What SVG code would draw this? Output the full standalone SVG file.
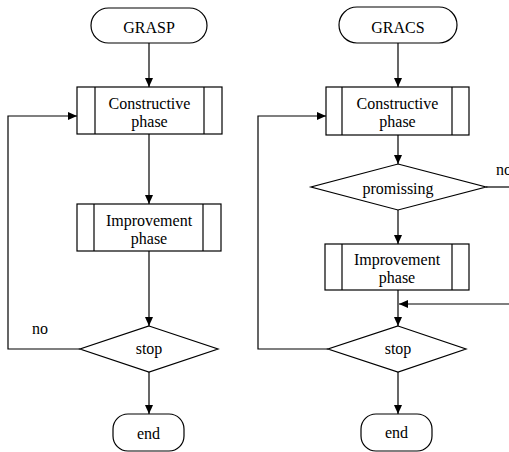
<svg xmlns="http://www.w3.org/2000/svg" width="509" height="452" viewBox="0 0 509 452" font-family="'Liberation Serif', 'Times New Roman', 'DejaVu Serif', serif" font-size="16">
<defs>
<marker id="ah" markerWidth="10" markerHeight="10" refX="9" refY="4" orient="auto" markerUnits="userSpaceOnUse">
<path d="M0,0 L9,4 L0,8 Z" fill="#000"/>
</marker>
<style>
.s{fill:#fff;stroke:#000;stroke-width:1.2}
.l{fill:none;stroke:#000;stroke-width:1.2}
.c{fill:none;stroke:#000;stroke-width:1.2;marker-end:url(#ah)}
text{font-family:'Liberation Serif','Times New Roman','DejaVu Serif',serif;font-size:16px;fill:#000}
.m{text-anchor:middle}
</style>
</defs>
<rect width="509" height="452" fill="#fff"/>
<g id="connectors">
<line class="c" x1="149" y1="43" x2="149" y2="87"/>
<line class="c" x1="149" y1="134" x2="149" y2="204"/>
<line class="c" x1="149" y1="251" x2="149" y2="326"/>
<line class="c" x1="149" y1="372" x2="149" y2="414"/>
<polyline class="c" points="80,349 8,349 8,116 77,116"/>
<line class="c" x1="398" y1="43" x2="398" y2="87"/>
<line class="c" x1="398" y1="135" x2="398" y2="164"/>
<line class="c" x1="398" y1="210" x2="398" y2="244"/>
<line class="c" x1="398" y1="290" x2="398" y2="326"/>
<line class="l" x1="486" y1="187" x2="509" y2="187"/>
<line class="c" x1="509" y1="304" x2="399" y2="304"/>
<line class="c" x1="398" y1="372" x2="398" y2="414"/>
<polyline class="c" points="328,349 258,349 258,116 326,116"/>
</g>
<g id="grasp">
<rect class="s" x="91" y="8" width="116" height="35" rx="17.5"/>
<text class="m" x="149" y="33">GRASP</text>
</g>
<g id="constructive1">
<rect class="s" x="77" y="87" width="145" height="47"/>
<line class="l" x1="95" y1="87" x2="95" y2="134"/>
<line class="l" x1="204" y1="87" x2="204" y2="134"/>
<text class="m" x="149.5" y="109">Constructive</text>
<text class="m" x="149.5" y="127">phase</text>
</g>
<g id="improvement1">
<rect class="s" x="77" y="204" width="144" height="47"/>
<line class="l" x1="94" y1="204" x2="94" y2="251"/>
<line class="l" x1="203" y1="204" x2="203" y2="251"/>
<text class="m" x="149" y="226">Improvement</text>
<text class="m" x="149" y="244">phase</text>
</g>
<g id="stop1">
<polygon class="s" points="149,326 218,349 149,372 80,349"/>
<text class="m" x="149" y="354">stop</text>
</g>
<text id="no1" x="32" y="334">no</text>
<g id="end1">
<rect class="s" x="113" y="414" width="71" height="37" rx="15"/>
<text class="m" x="148.5" y="439">end</text>
</g>
<g id="gracs">
<rect class="s" x="339" y="7" width="118" height="36" rx="18"/>
<text class="m" x="398" y="33">GRACS</text>
</g>
<g id="constructive2">
<rect class="s" x="326" y="87" width="143" height="48"/>
<line class="l" x1="342" y1="87" x2="342" y2="135"/>
<line class="l" x1="452" y1="87" x2="452" y2="135"/>
<text class="m" x="397.5" y="109">Constructive</text>
<text class="m" x="397.5" y="127">phase</text>
</g>
<g id="promising">
<polygon class="s" points="398,164 486,187 398,210 311,187"/>
<text class="m" x="398" y="194">promissing</text>
</g>
<text id="no2" x="496" y="175">no</text>
<g id="improvement2">
<rect class="s" x="325" y="244" width="144" height="46"/>
<line class="l" x1="342" y1="244" x2="342" y2="290"/>
<line class="l" x1="452" y1="244" x2="452" y2="290"/>
<text class="m" x="397" y="265">Improvement</text>
<text class="m" x="397" y="283">phase</text>
</g>
<g id="stop2">
<polygon class="s" points="398,326 466,349 398,372 328,349"/>
<text class="m" x="398" y="354">stop</text>
</g>
<g id="end2">
<rect class="s" x="361" y="414" width="71" height="37" rx="15"/>
<text class="m" x="396.5" y="438">end</text>
</g>
</svg>
